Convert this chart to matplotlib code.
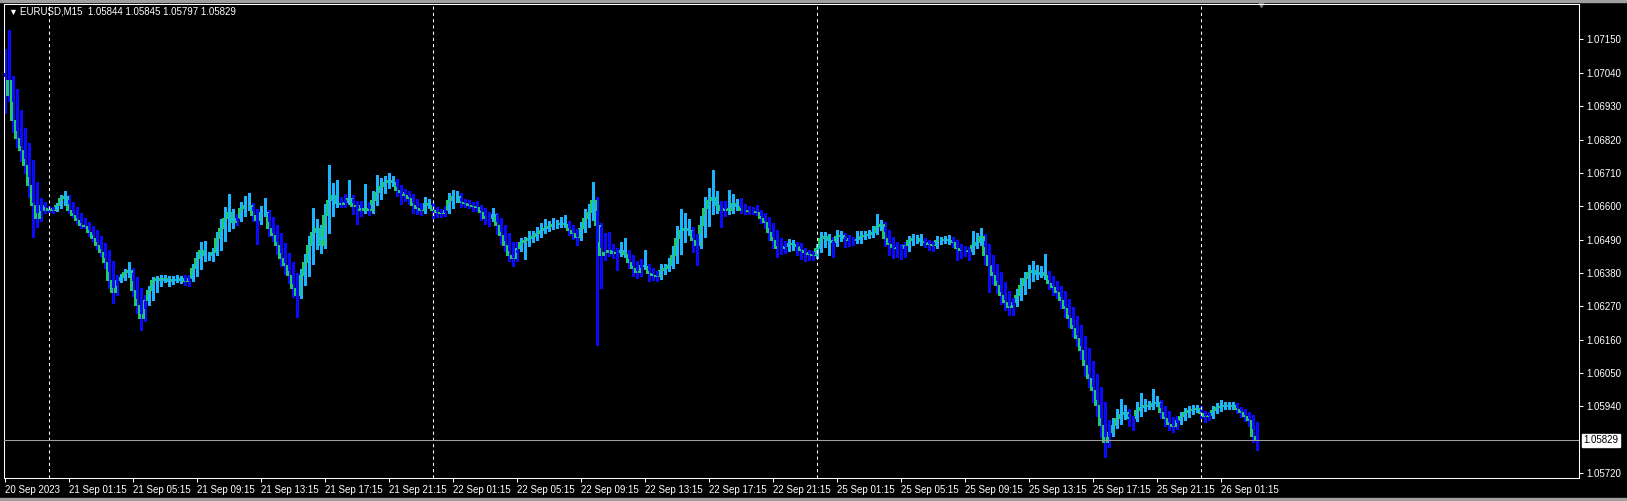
import numpy as np
import matplotlib.pyplot as plt
from matplotlib.patches import Rectangle

plt.rcParams['font.family'] = ['Liberation Sans', 'DejaVu Sans']

# chart header
symbol = "EURUSD,M15"
last_ohlc = [1.05844, 1.05845, 1.05797, 1.05829]
first_open = 1.07110

# M15 closes, one list per trading day (20 Sep starts at 21:15)
close_20sep = [1.06967, 1.07016, 1.06884, 1.06825, 1.06785, 1.06736, 1.06670, 1.06604, 1.06561, 1.06604,
               1.06587]
close_21sep = [1.06594, 1.06587, 1.06604, 1.06627, 1.06634, 1.06587, 1.06571, 1.06554, 1.06538, 1.06535,
               1.06515, 1.06495, 1.06472, 1.06449, 1.06416, 1.06357, 1.06317, 1.06357, 1.06366, 1.06383,
               1.06390, 1.06324, 1.06274, 1.06231, 1.06291, 1.06324, 1.06357, 1.06363, 1.06357, 1.06363,
               1.06353, 1.06360, 1.06357, 1.06363, 1.06353, 1.06363, 1.06396, 1.06429, 1.06456, 1.06439,
               1.06439, 1.06449, 1.06495, 1.06528, 1.06561, 1.06581, 1.06548, 1.06561, 1.06594, 1.06604,
               1.06604, 1.06571, 1.06554, 1.06581, 1.06581, 1.06528, 1.06505, 1.06472, 1.06429, 1.06406,
               1.06373, 1.06330, 1.06307, 1.06373, 1.06416, 1.06472, 1.06515, 1.06528, 1.06472, 1.06571,
               1.06620, 1.06637, 1.06610, 1.06607, 1.06614, 1.06627, 1.06601, 1.06604, 1.06587, 1.06594,
               1.06587, 1.06620, 1.06647, 1.06667, 1.06680, 1.06686, 1.06680, 1.06653, 1.06647, 1.06637,
               1.06627, 1.06604, 1.06594, 1.06587, 1.06610, 1.06604]
close_22sep = [1.06587, 1.06581, 1.06578, 1.06587, 1.06620, 1.06634, 1.06634, 1.06614, 1.06610, 1.06604,
               1.06601, 1.06597, 1.06581, 1.06561, 1.06561, 1.06574, 1.06538, 1.06505, 1.06472, 1.06439,
               1.06429, 1.06462, 1.06482, 1.06488, 1.06495, 1.06502, 1.06512, 1.06521, 1.06528, 1.06535,
               1.06541, 1.06541, 1.06545, 1.06541, 1.06521, 1.06512, 1.06498, 1.06528, 1.06561, 1.06581,
               1.06620, 1.06538, 1.06439, 1.06449, 1.06456, 1.06446, 1.06449, 1.06456, 1.06442, 1.06416,
               1.06396, 1.06383, 1.06406, 1.06403, 1.06380, 1.06373, 1.06370, 1.06390, 1.06396, 1.06406,
               1.06439, 1.06495, 1.06521, 1.06528, 1.06521, 1.06488, 1.06472, 1.06538, 1.06594, 1.06620,
               1.06630, 1.06604, 1.06587, 1.06594, 1.06587, 1.06610, 1.06601, 1.06587, 1.06587, 1.06584,
               1.06584, 1.06581, 1.06561, 1.06548, 1.06515, 1.06488, 1.06462, 1.06462, 1.06469, 1.06479,
               1.06475, 1.06469, 1.06456, 1.06449, 1.06442, 1.06439]
close_25sep = [1.06462, 1.06495, 1.06502, 1.06488, 1.06482, 1.06502, 1.06505, 1.06495, 1.06488, 1.06488,
               1.06492, 1.06502, 1.06505, 1.06508, 1.06515, 1.06535, 1.06541, 1.06495, 1.06475, 1.06465,
               1.06462, 1.06462, 1.06472, 1.06488, 1.06495, 1.06495, 1.06485, 1.06482, 1.06475, 1.06472,
               1.06488, 1.06488, 1.06492, 1.06488, 1.06482, 1.06462, 1.06456, 1.06456, 1.06452, 1.06472,
               1.06482, 1.06502, 1.06439, 1.06406, 1.06373, 1.06340, 1.06307, 1.06284, 1.06268, 1.06284,
               1.06307, 1.06340, 1.06363, 1.06383, 1.06390, 1.06376, 1.06383, 1.06373, 1.06347, 1.06334,
               1.06317, 1.06291, 1.06264, 1.06231, 1.06198, 1.06165, 1.06126, 1.06076, 1.06033, 1.05994,
               1.05944, 1.05878, 1.05822, 1.05855, 1.05878, 1.05901, 1.05915, 1.05921, 1.05901, 1.05901,
               1.05928, 1.05938, 1.05944, 1.05941, 1.05951, 1.05954, 1.05921, 1.05901, 1.05882, 1.05875,
               1.05895, 1.05908, 1.05921, 1.05928, 1.05931, 1.05934]
close_26sep = [1.05918, 1.05908, 1.05911, 1.05928, 1.05938, 1.05941, 1.05944, 1.05941, 1.05944, 1.05931,
               1.05921, 1.05908, 1.05895, 1.05844, 1.05829]

# wick lengths in points (1e-5) above / below each real candle body
up_20sep = [10, 165, 10, 8, 5, 10, 8, 5, 5, 12, 10]
dn_20sep = [60, 20, 40, 30, 35, 25, 40, 105, 30, 10, 8]
up_21sep = [6, 5, 8, 10, 15, 4, 6, 5, 7, 8, 5, 6, 4, 8, 5, 6, 10, 15, 12, 10,
            25, 5, 6, 8, 15, 12, 10, 8, 10, 12, 8, 10, 12, 8, 10, 12, 15, 20, 25, 30,
            10, 12, 20, 30, 35, 60, 10, 15, 20, 30, 40, 8, 6, 20, 45, 6, 8, 5, 6, 10,
            8, 5, 10, 20, 25, 30, 80, 30, 10, 35, 115, 40, 50, 20, 25, 60, 10, 8, 15, 80,
            20, 30, 55, 25, 20, 25, 15, 10, 8, 10, 12, 6, 8, 10, 20, 15]
dn_21sep = [5, 8, 4, 6, 5, 10, 8, 12, 10, 6, 12, 10, 14, 12, 20, 25, 36, 8, 6, 8,
            6, 20, 25, 40, 10, 8, 6, 8, 12, 8, 15, 10, 8, 10, 12, 15, 10, 8, 10, 12,
            15, 18, 8, 10, 8, 10, 20, 10, 8, 6, 10, 20, 80, 12, 10, 25, 20, 30, 25, 30,
            25, 30, 73, 10, 8, 10, 8, 12, 25, 10, 8, 10, 12, 8, 10, 8, 25, 60, 20, 10,
            15, 8, 10, 8, 6, 10, 12, 20, 40, 20, 18, 25, 20, 15, 8, 10]
up_22sep = [8, 10, 8, 15, 25, 20, 15, 10, 8, 12, 10, 15, 8, 6, 10, 20, 5, 6, 5, 8,
            10, 20, 15, 10, 25, 15, 20, 25, 30, 15, 20, 15, 20, 25, 10, 8, 6, 20, 30, 25,
            60, 10, 8, 63, 60, 20, 15, 25, 40, 10, 8, 10, 20, 50, 8, 10, 12, 20, 15, 25,
            30, 40, 70, 50, 30, 10, 8, 30, 35, 40, 90, 20, 15, 25, 60, 30, 15, 25, 20, 15,
            12, 20, 8, 10, 6, 8, 10, 12, 15, 12, 10, 8, 10, 6, 8, 10]
dn_22sep = [25, 15, 12, 10, 8, 10, 8, 15, 12, 10, 15, 12, 25, 20, 25, 8, 30, 30, 20, 20,
            25, 10, 8, 55, 10, 8, 12, 8, 10, 8, 10, 12, 8, 10, 15, 20, 25, 10, 8, 10,
            8, 396, 110, 15, 12, 15, 55, 12, 10, 20, 25, 20, 12, 10, 25, 15, 18, 10, 12, 8,
            10, 8, 10, 12, 15, 40, 65, 10, 8, 10, 12, 25, 55, 20, 12, 10, 12, 10, 12, 10,
            8, 10, 15, 20, 25, 25, 30, 20, 15, 18, 20, 30, 30, 30, 20, 15]
up_25sep = [15, 20, 12, 8, 10, 20, 15, 8, 10, 12, 25, 15, 12, 15, 20, 40, 15, 8, 10, 8,
            10, 12, 10, 15, 12, 10, 12, 10, 8, 10, 15, 12, 10, 12, 10, 8, 10, 12, 10, 45,
            30, 25, 8, 10, 8, 10, 6, 8, 10, 15, 20, 25, 20, 25, 30, 15, 20, 60, 10, 8,
            6, 10, 8, 6, 8, 5, 6, 8, 5, 6, 8, 5, 10, 20, 25, 30, 50, 25, 10, 8,
            25, 45, 20, 15, 45, 20, 8, 6, 8, 10, 15, 12, 15, 12, 15, 10]
dn_25sep = [10, 8, 10, 50, 50, 12, 10, 30, 20, 15, 10, 12, 10, 8, 10, 8, 10, 25, 35, 35,
            30, 35, 30, 20, 12, 15, 12, 15, 20, 20, 10, 12, 10, 12, 15, 40, 25, 20, 30, 10,
            8, 10, 30, 90, 30, 25, 30, 25, 25, 25, 12, 10, 8, 10, 12, 15, 10, 12, 20, 25,
            20, 25, 30, 30, 30, 25, 30, 35, 30, 40, 35, 40, 50, 15, 12, 10, 12, 15, 25, 40,
            10, 8, 12, 10, 8, 10, 20, 25, 20, 18, 10, 12, 8, 10, 8, 10]
up_26sep = [8, 6, 10, 15, 12, 20, 10, 12, 10, 6, 8, 6, 8, 5, 1]
dn_26sep = [15, 20, 12, 8, 10, 8, 10, 8, 8, 12, 15, 15, 18, 20, 32]

x_labels = ["20 Sep 2023", "21 Sep 01:15", "21 Sep 05:15", "21 Sep 09:15", "21 Sep 13:15",
            "21 Sep 17:15", "21 Sep 21:15", "22 Sep 01:15", "22 Sep 05:15", "22 Sep 09:15",
            "22 Sep 13:15", "22 Sep 17:15", "22 Sep 21:15", "25 Sep 01:15", "25 Sep 05:15",
            "25 Sep 09:15", "25 Sep 13:15", "25 Sep 17:15", "25 Sep 21:15", "26 Sep 01:15"]
bars_per_label = 16
price_ticks = [1.05720, 1.05940, 1.06050, 1.06160, 1.06270, 1.06380, 1.06490,
               1.06600, 1.06710, 1.06820, 1.06930, 1.07040, 1.07150]

# ---- assemble OHLC ----
days = [close_20sep, close_21sep, close_22sep, close_25sep, close_26sep]
close = np.concatenate(days)
up = np.concatenate([up_20sep, up_21sep, up_22sep, up_25sep, up_26sep]) * 1e-5
dn = np.concatenate([dn_20sep, dn_21sep, dn_22sep, dn_25sep, dn_26sep]) * 1e-5
opn = np.concatenate([[first_open], close[:-1]])
high = np.maximum(opn, close) + up
low = np.minimum(opn, close) - dn
n = len(close)
x = np.arange(n)

# Heiken Ashi
ha_close = (opn + high + low + close) / 4
ha_open = np.zeros(n)
ha_open[0] = (opn[0] + close[0]) / 2
for i in range(1, n):
    ha_open[i] = (ha_open[i - 1] + ha_close[i - 1]) / 2
ha_high = np.maximum(high, np.maximum(ha_open, ha_close))
ha_low = np.minimum(low, np.minimum(ha_open, ha_close))
bull = ha_close >= ha_open

c_bear = '#0a0aff'
c_bull = '#1ab4ff'
c_green = '#22c864'
colors = np.where(bull, c_bull, c_bear)

W, H = 1627, 501
fig = plt.figure(figsize=(W / 100, H / 100), dpi=100, facecolor='black')
ax = fig.add_axes([3.5 / W, 23 / H, 1575.5 / W, 474 / H])
ax.set_facecolor('black')

# HA wicks, real candle bodies (thin green) at the left edge, HA bodies on top
ax.vlines(x + 0.1, ha_low, ha_high, colors=colors, lw=0.75, antialiased=False, zorder=2)
ax.vlines(x - 0.35, np.minimum(opn, close), np.maximum(opn, close), color=c_green, lw=0.75,
          antialiased=False, zorder=2)
body_h = np.maximum(np.abs(ha_close - ha_open), 0.0001)
mid = (ha_open + ha_close) / 2
ax.bar(x + 0.12, body_h, bottom=mid - body_h / 2, width=0.8, color=colors, linewidth=0,
       antialiased=False, zorder=3)

# day separators
starts = np.cumsum([len(d) for d in days])[:-1]
for s in starts:
    ax.axvline(s, color='white', lw=0.75, ls=(0, (3, 3)), zorder=4)

# current price line and label
ax.axhline(last_ohlc[3], color='#a0a0a0', lw=0.75, zorder=4)
ax.annotate(f"{last_ohlc[3]:.5f}", xy=(1, last_ohlc[3]), xycoords=('axes fraction', 'data'),
            xytext=(3, 0), textcoords='offset points', va='center', ha='left', fontsize=7,
            color='black', bbox=dict(boxstyle='square,pad=0.15', fc='white', ec='white'),
            annotation_clip=False)

# chart shift marker
ax.plot([n], [1.0], marker='v', ms=5, color='#808080', transform=ax.get_xaxis_transform(), clip_on=False)

ax.set_xlim(-0.325, 393.55)
ax.set_ylim(1.05704, 1.07267)

ax.yaxis.tick_right()
ax.set_yticks(price_ticks)
ax.set_yticklabels([f"{p:.5f}" for p in price_ticks])
ax.set_xticks(np.arange(len(x_labels)) * bars_per_label)
ax.set_xticklabels(x_labels, ha='left')
ax.tick_params(colors='white', labelcolor='white', labelsize=7, length=3, width=0.75, pad=2)
for sp in ax.spines.values():
    sp.set_color('white')
    sp.set_linewidth(0.75)

# header
fig.text(8 / W, 1 - 12 / H, "\u25bc", color='white', fontsize=6.5, va='center', ha='left')
fig.text(20 / W, 1 - 12 / H, f"{symbol}  " + " ".join(f"{v:.5f}" for v in last_ohlc),
         color='white', fontsize=7, va='center', ha='left')

# window border
fig.add_artist(Rectangle((0, 1 - 2 / H), 1, 2 / H, transform=fig.transFigure, color='#a0a0a0'))
fig.add_artist(Rectangle((0, 0), 1, 3 / H, transform=fig.transFigure, color='#a0a0a0'))

fig.savefig('out.png', dpi=100, facecolor='black')
